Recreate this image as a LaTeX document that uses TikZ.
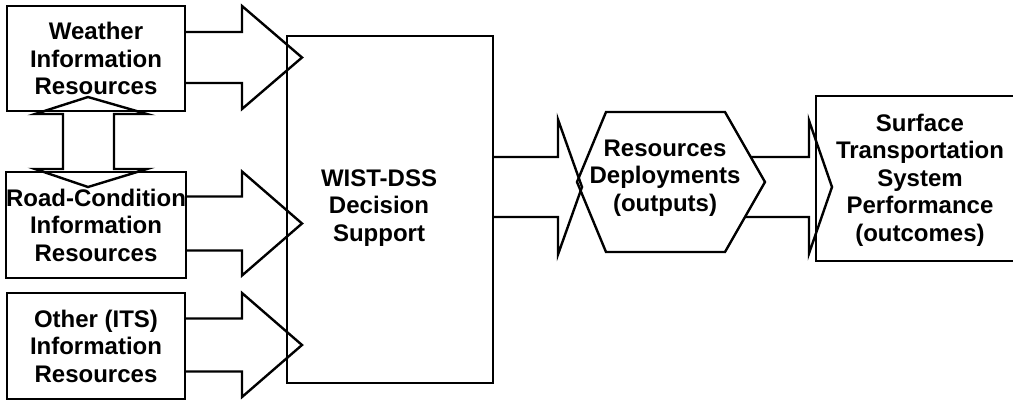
\documentclass[tikz,border=0pt]{standalone}
\usepackage{fontspec}
\setmainfont{Liberation Sans}
\tikzset{
  outline/.style={draw=black, line width=2.4pt, line join=miter},
  srcbox/.style={outline, rectangle, minimum width=178pt, minimum height=105pt,
    inner sep=0pt, align=center},
  label/.style={align=center, inner sep=0pt,
    font=\fontsize{24}{27.5}\selectfont\bfseries},
}
% block arrow: start x, head-back x, tip x, centre y, half shaft, half head
\newcommand\blockarrow[6]{%
  \draw[outline] (#1,#4+#5) -- (#2,#4+#5) -- (#2,#4+#6) -- (#3,#4)
    -- (#2,#4-#6) -- (#2,#4-#5) -- (#1,#4-#5);}
\begin{document}
\begin{tikzpicture}[x=1pt,y=1pt]
\useasboundingbox (0,0) rectangle (1013,-400);
\clip (0,0) rectangle (1013,-400);

% information sources
\node[srcbox, label] (weather) at (96,-58.5) {Weather\\Information\\Resources};
\node[srcbox, label, minimum height=106pt] (road) at (96,-225) {Road-Condition\\Information\\Resources};
\node[srcbox, label, minimum height=106pt] (other) at (96,-346) {Other (ITS)\\Information\\Resources};

% decision support system
\node[outline, rectangle, minimum width=206pt, minimum height=347pt, inner sep=0pt] (dss) at (390,-209.5) {};
\node[label] (dsstext) at (379,-208) {WIST-DSS\\Decision\\Support};

% two-way link between weather and road-condition resources
\draw[outline] (35,-114) -- (88,-97) -- (147,-114) -- (114,-114) -- (114,-169)
  -- (147,-169) -- (88,-187) -- (35,-169) -- (63,-169) -- (63,-114) -- cycle;

% inputs into the DSS
\blockarrow{185}{242}{302}{-57.5}{25.5}{51.5}
\blockarrow{185}{242}{302}{-223.5}{27}{52}
\blockarrow{185}{242}{302}{-345}{26.5}{52}

% outputs
\blockarrow{493}{558}{582}{-187}{30}{67.5}
\draw[outline] (606,-112) -- (725,-112) -- (765,-182) -- (725,-252) -- (606,-252) -- (577,-182) -- cycle;
\node[label] (deploy) at (665,-178) {Resources\\Deployments\\(outputs)};

% outcomes
\draw[outline] (751,-157) -- (809,-157) -- (809,-120.5) -- (832,-187)
  -- (809,-253.5) -- (809,-217) -- (745,-217);
\draw[outline] (1030,-96) -- (816,-96) -- (816,-261) -- (1030,-261);
\node[label] (outcome) at (920,-180) {Surface\\Transportation\\System\\Performance\\(outcomes)};
\end{tikzpicture}
\end{document}
